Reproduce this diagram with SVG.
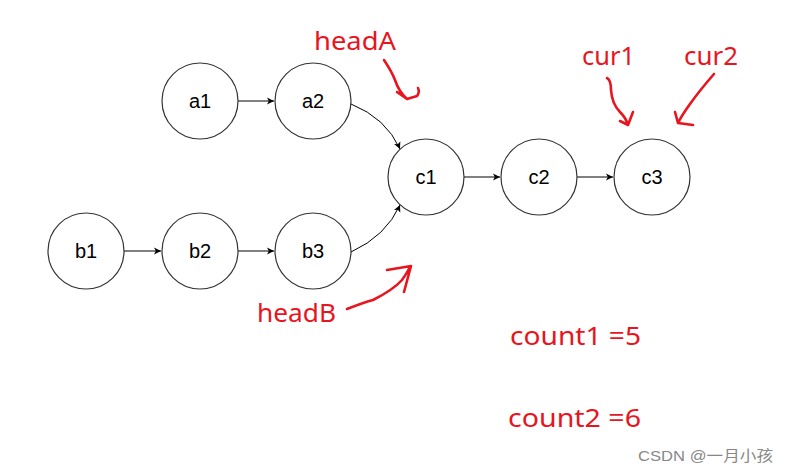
<svg xmlns="http://www.w3.org/2000/svg" width="789" height="473" viewBox="0 0 789 473">
<style>
.node circle{fill:#fff;stroke:#333;stroke-width:1.2}
.node text{font-family:"Liberation Sans",Arial,sans-serif;font-size:20px;fill:#000;text-anchor:middle}
.edge{fill:none;stroke:#000;stroke-width:1}
.red{fill:none;stroke:#e8141e;stroke-width:2.6;stroke-linecap:round;stroke-linejoin:round}
.rt{font-family:"Noto Sans","Open Sans",sans-serif;font-size:26px;fill:#e8141e}
.wm{font-family:"Liberation Sans","Noto Sans CJK SC",sans-serif;font-size:15px;fill:#888}
</style>
<defs>
<marker id="arr" markerWidth="8" markerHeight="8" refX="7" refY="4" orient="auto" markerUnits="userSpaceOnUse">
<path d="M0,0.5 L7,4 L0,7.5 L1.8,4 Z" fill="#000"/>
</marker>
</defs>
<rect width="789" height="473" fill="#fff"/>
<g id="connectors">
<line class="edge" x1="238" y1="101" x2="274" y2="101" marker-end="url(#arr)"/>
<line class="edge" x1="124" y1="251" x2="161" y2="251" marker-end="url(#arr)"/>
<line class="edge" x1="238" y1="251" x2="274" y2="251" marker-end="url(#arr)"/>
<line class="edge" x1="464" y1="177" x2="500" y2="177" marker-end="url(#arr)"/>
<line class="edge" x1="577" y1="177" x2="613" y2="177" marker-end="url(#arr)"/>
<path class="edge" d="M351,104 Q386,118 400,149" marker-end="url(#arr)"/>
<path class="edge" d="M351,252 Q386,236 400,205" marker-end="url(#arr)"/>
</g>
<g id="a1" class="node"><circle cx="200" cy="101" r="38"/><text x="200" y="108">a1</text></g>
<g id="a2" class="node"><circle cx="313" cy="101" r="38"/><text x="313" y="108">a2</text></g>
<g id="b1" class="node"><circle cx="86" cy="251" r="38"/><text x="86" y="258">b1</text></g>
<g id="b2" class="node"><circle cx="200" cy="251" r="38"/><text x="200" y="258">b2</text></g>
<g id="b3" class="node"><circle cx="313" cy="251" r="38"/><text x="313" y="258">b3</text></g>
<g id="c1" class="node"><circle cx="426" cy="177" r="38"/><text x="426" y="184">c1</text></g>
<g id="c2" class="node"><circle cx="539" cy="177" r="38"/><text x="539" y="184">c2</text></g>
<g id="c3" class="node"><circle cx="652" cy="177" r="38"/><text x="652" y="184">c3</text></g>
<g id="annotations">
<text class="rt" x="314" y="50" textLength="82" lengthAdjust="spacingAndGlyphs">headA</text>
<path class="red" d="M384,60 Q392,72 395,80 Q399,92 407,99 M397,92 L407,99 L417,96 Q420,92 418,88"/>
<text class="rt" x="582" y="65" textLength="53" lengthAdjust="spacingAndGlyphs">cur1</text>
<path class="red" d="M607,78 Q611,80 611,90 Q612,104 620,112 Q626,118 628,125 M620,121 L628,125 L633,112"/>
<text class="rt" x="684" y="65" textLength="54" lengthAdjust="spacingAndGlyphs">cur2</text>
<path class="red" d="M714,74 Q700,90 690,104 Q682,115 678,123 M675,112 L678,123 L693,125"/>
<text class="rt" x="257" y="322" textLength="79" lengthAdjust="spacingAndGlyphs">headB</text>
<path class="red" d="M347,309 Q365,302 373,300 Q393,290 402,280 Q407,273 410,267 M387,270 L411,266 L404,292"/>
<text class="rt" x="510" y="345" textLength="131" lengthAdjust="spacingAndGlyphs">count1 =5</text>
<text class="rt" x="508" y="427" textLength="133" lengthAdjust="spacingAndGlyphs">count2 =6</text>
<text class="wm" x="638" y="461" textLength="135" lengthAdjust="spacingAndGlyphs">CSDN @一月小孩</text>
</g>
</svg>
